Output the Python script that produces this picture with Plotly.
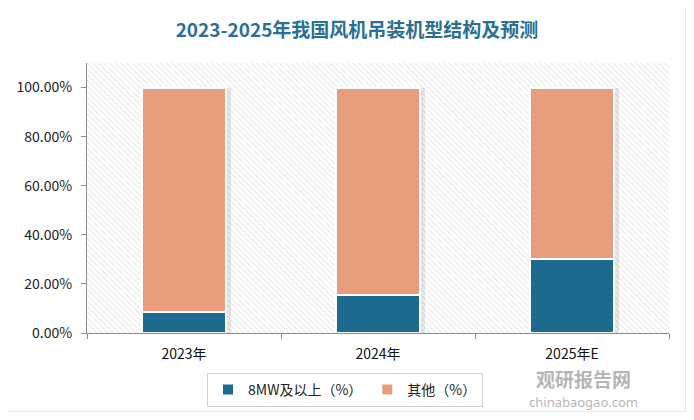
import plotly.graph_objects as go

categories = ["2023年", "2024年", "2025年E"]
big_share = [8.7, 15.6, 30.0]
other_share = [91.3, 84.4, 70.0]
totals = [100, 100, 100]
tick_vals = [0, 20, 40, 60, 80, 100]
tick_text = ["0.00%", "20.00%", "40.00%", "60.00%", "80.00%", "100.00%"]

# page body has an 8px default margin on each side; keep the figure inside the
# window so no scrollbars appear
OFF = 8
W, H = 694 - 2 * OFF, 420 - 2 * OFF
ml, mt = 87 - OFF, 63 - OFF
plot_right, plot_bottom = 669 - OFF, 333 - OFF
mr, mb = W - plot_right, H - plot_bottom
pw, ph = W - ml - mr, H - mt - mb

def px(x):  # reference pixel -> paper fraction
    return (x - OFF - ml) / pw

def py(y):
    return (H - mb - (y - OFF)) / ph

def cx(x):  # reference pixel -> container fraction
    return (x - OFF) / W

def cy(y):
    return 1 - (y - OFF) / H

BW = 0.43

fig = go.Figure()

# hatched plot background (on primary hidden axes, underneath)
fig.add_trace(go.Bar(x=[0.5], y=[110], width=[1], xaxis="x", yaxis="y",
                     marker=dict(color="white", line=dict(width=0),
                                 pattern=dict(shape="\\", fgcolor="#c9c9c9", bgcolor="white",
                                              size=4, solidity=0.25)),
                     showlegend=False, hoverinfo="skip"))

# soft shadow to the right of each bar
fig.add_trace(go.Bar(x=categories, y=totals, xaxis="x2", yaxis="y2",
                     width=BW, offset=-BW / 2 + 0.025,
                     marker=dict(color="rgba(0,0,0,0.09)", line=dict(width=0)),
                     showlegend=False, hoverinfo="skip"))

fig.add_trace(go.Bar(name="8MW及以上（%）", x=categories, y=big_share,
                     xaxis="x3", yaxis="y3",
                     marker=dict(color="#1c6b8f", line=dict(color="white", width=2)),
                     width=BW))
fig.add_trace(go.Bar(name="其他（%）", x=categories, y=other_share,
                     xaxis="x3", yaxis="y3",
                     marker=dict(color="#e79c7c", line=dict(color="white", width=2)),
                     width=BW))

cat_range = [-0.5, 2.5]

fig.update_layout(
    width=W, height=H,
    barmode="stack",
    margin=dict(l=ml, r=mr, t=mt, b=mb),
    paper_bgcolor="#e6e6e6",
    plot_bgcolor="white",
    font=dict(family="Noto Sans CJK SC, Noto Sans, sans-serif", size=12, color="#222222"),
    title=dict(text="<b>2023-2025年我国风机吊装机型结构及预测</b>",
               x=cx(357), xanchor="center", y=cy(30), yanchor="middle",
               xref="container", yref="container",
               font=dict(family="Noto Sans CJK SC", size=19, color="#2a6f94")),
    xaxis=dict(range=[0, 1], visible=False, fixedrange=True),
    yaxis=dict(range=[0, 110], visible=False, automargin=False),
    xaxis2=dict(overlaying="x", visible=False, range=cat_range, type="category"),
    yaxis2=dict(overlaying="y", visible=False, range=[0, 110]),
    xaxis3=dict(overlaying="x", type="category", range=cat_range,
                showline=True, linecolor="#8c8c8c", linewidth=1,
                ticks="outside", tickson="boundaries", ticklen=5, tickcolor="#8c8c8c",
                ticklabelstandoff=8,
                tickfont=dict(size=14, color="#111111"),
                showgrid=False, zeroline=False, automargin=False),
    yaxis3=dict(overlaying="y", side="left", range=[0, 110],
                tickvals=tick_vals, ticktext=tick_text,
                showline=True, linecolor="#8c8c8c", linewidth=1,
                ticks="outside", ticklen=5, tickcolor="#8c8c8c",
                ticklabelstandoff=6,
                tickfont=dict(size=14, color="#222222"),
                showgrid=False, zeroline=False, automargin=False),
    legend=dict(orientation="h", xref="container", yref="container",
                x=cx(345), xanchor="center", y=cy(373), yanchor="top",
                bordercolor="#d0d0d0", borderwidth=1, bgcolor="white",
                font=dict(size=14, color="#222222"),
                traceorder="normal"),
    shapes=[
        dict(type="rect", xref="paper", yref="paper",
             x0=px(0), x1=px(685), y0=py(411), y1=py(0),
             fillcolor="white", line=dict(width=0), layer="below"),
    ],
    annotations=[
        dict(text="<b>观研报告网</b>", xref="paper", yref="paper",
             x=px(583), y=py(378), xanchor="center", yanchor="middle",
             showarrow=False, opacity=0.5,
             font=dict(family="Noto Sans CJK SC", size=19, color="#6e6e6e")),
        dict(text="chinabaogao.com", xref="paper", yref="paper",
             x=px(583), y=py(402), xanchor="center", yanchor="middle",
             showarrow=False, opacity=0.5,
             font=dict(family="Noto Sans, sans-serif", size=13, color="#6e6e6e")),
    ],
)

fig.write_html("out.html")
